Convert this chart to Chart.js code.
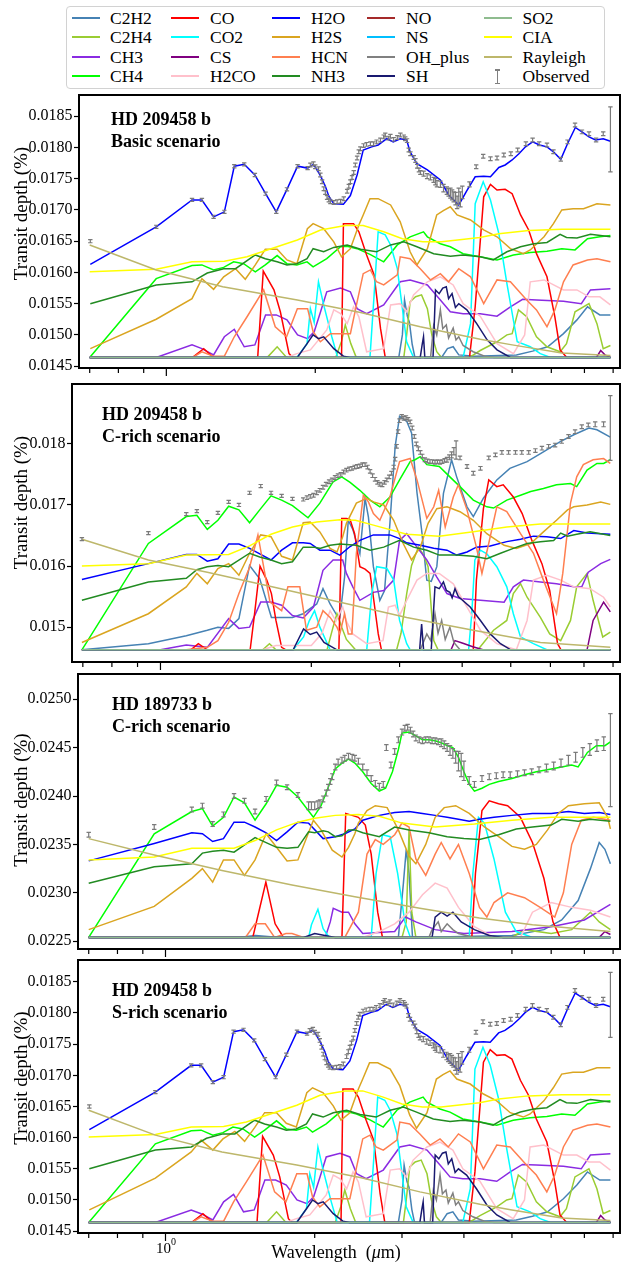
<!DOCTYPE html>
<html>
<head>
<meta charset="utf-8">
<script src="https://cdn.jsdelivr.net/npm/chart.js@4.4.1/dist/chart.umd.min.js"></script>
<style>
  html, body { margin: 0; padding: 0; background: #fff; }
  body { width: 632px; height: 1263px; position: relative; overflow: hidden; font-family: "Liberation Serif", "Times New Roman", serif; }
  canvas { position: absolute; left: 0; }
  #legend { position: absolute; left: 66px; top: 6px; width: 537px; height: 81px; border: 1px solid #d2d2d2; border-radius: 4px; background: #fff; }
  .li { position: absolute; height: 20px; line-height: 20px; font-size: 17.5px; color: #000; white-space: nowrap; }
  .lh { position: absolute; height: 2px; width: 28px; }
</style>
</head>
<body>
<div id="legend"></div>
<script>
// ---------- species and colours ----------
const SPECIES = ['C2H2','C2H4','CH3','CH4','CO','CO2','CS','H2CO','H2O','H2S','HCN','NH3','NO','NS','OH_plus','SH','SO2','CIA','Rayleigh'];
const COLORS = {
  C2H2:'#4682B4', C2H4:'#9ACD32', CH3:'#8A2BE2', CH4:'#00FF00', CO:'#FF0000', CO2:'#00FFFF',
  CS:'#800080', H2CO:'#FFC0CB', H2O:'#0000FF', H2S:'#DAA520', HCN:'#FF7F50', NH3:'#228B22',
  NO:'#A52A2A', NS:'#00BFFF', OH_plus:'#808080', SH:'#191970', SO2:'#8FBC8F', CIA:'#FFFF00',
  Rayleigh:'#BDB76B', Observed:'#808080'
};

// ---------- axis ticks ----------
const WL_MIN = 0.666, WL_MAX = 8.26;
const X_TICKS = [0.7, 0.8, 0.9, 1, 2, 3, 4, 5, 6, 7, 8];
const Y_TICKS_209 = [0.0145, 0.0150, 0.0155, 0.0160, 0.0165, 0.0170, 0.0175, 0.0180, 0.0185];
const Y_TICKS_209C = [0.015, 0.016, 0.017, 0.018];
const Y_TICKS_189 = [0.0225, 0.0230, 0.0235, 0.0240, 0.0245, 0.0250];

// ---------- HD 209458 b, basic scenario ----------
const basic_C2H2 = [[0.70,0.01464],[2.95,0.01464],[3.0,0.01500],[3.03,0.01556],[3.07,0.01530],[3.1,0.01520],[3.14,0.01485],[3.18,0.01464],[3.6,0.01464],[3.7,0.01478],[3.8,0.01481],[3.9,0.01468],[4.2,0.01466],[5.1,0.01468],[5.5,0.01474],[5.9,0.01481],[6.35,0.01502],[6.76,0.01524],[7.1,0.01545],[7.52,0.01532],[7.9,0.01532]];
const basic_C2H4 = [[0.70,0.01464],[1.6,0.01464],[1.675,0.01481],[1.75,0.01464],[2.2,0.01464],[2.26,0.01490],[2.3,0.01516],[2.36,0.01486],[2.42,0.01464],[3.02,0.01464],[3.06,0.01500],[3.11,0.01553],[3.19,0.01561],[3.28,0.01564],[3.37,0.01542],[3.44,0.01500],[3.52,0.01473],[3.6,0.01464],[4.1,0.01464],[4.31,0.01475],[4.66,0.01489],[4.88,0.01500],[5.0,0.01502],[5.15,0.01540],[5.35,0.01529],[5.6,0.01497],[5.88,0.01481],[6.25,0.01473],[6.44,0.01486],[6.7,0.01537],[7.15,0.01550],[7.42,0.01518],[7.64,0.01478],[7.9,0.01483]];
const basic_CH3 = [[0.70,0.01464],[0.954,0.01464],[1.127,0.01484],[1.18,0.01478],[1.246,0.01468],[1.31,0.01497],[1.372,0.01509],[1.437,0.01481],[1.51,0.01484],[1.587,0.01532],[1.668,0.01532],[1.753,0.01524],[1.842,0.01500],[1.93,0.01494],[1.99,0.01505],[2.05,0.01537],[2.11,0.01569],[2.25,0.01575],[2.355,0.01569],[2.43,0.01542],[2.54,0.01534],[2.75,0.01548],[2.97,0.01585],[3.11,0.01588],[3.37,0.01580],[3.58,0.01556],[3.75,0.01537],[3.98,0.01534],[4.31,0.01534],[4.66,0.01530],[4.96,0.01545],[5.25,0.01557],[5.6,0.01556],[6.35,0.01554],[6.9,0.01550],[7.2,0.01572],[7.9,0.01574]];
const basic_CH4 = [[0.702,0.01465],[0.954,0.01590],[1.127,0.01611],[1.18,0.01612],[1.246,0.01604],[1.306,0.01608],[1.368,0.01617],[1.433,0.01614],[1.513,0.01601],[1.585,0.01612],[1.675,0.01627],[1.753,0.01614],[1.836,0.01612],[1.925,0.01617],[1.98,0.01609],[2.11,0.01622],[2.25,0.01641],[2.32,0.01642],[2.43,0.01638],[2.58,0.01629],[2.75,0.01617],[2.93,0.01644],[3.11,0.01657],[3.31,0.01665],[3.37,0.01657],[3.58,0.01646],[3.75,0.01641],[3.98,0.01630],[4.31,0.01625],[4.66,0.01620],[5.03,0.01628],[5.44,0.01632],[5.88,0.01634],[6.3,0.01638],[6.7,0.01636],[7.1,0.01654],[7.52,0.01657],[7.9,0.01659]];
const basic_CO = [[0.70,0.01464],[1.13,0.01464],[1.19,0.01478],[1.245,0.01464],[1.53,0.01464],[1.57,0.01602],[1.65,0.01572],[1.70,0.01537],[1.77,0.01470],[1.8,0.01464],[2.26,0.01464],[2.28,0.01678],[2.39,0.01678],[2.45,0.01665],[2.54,0.01628],[2.63,0.01596],[2.71,0.01510],[2.77,0.01464],[4.1,0.01464],[4.21,0.01545],[4.38,0.01721],[4.52,0.01741],[4.66,0.01732],[4.84,0.01733],[5.0,0.01726],[5.2,0.01692],[5.4,0.01668],[5.6,0.01630],[5.88,0.01593],[6.1,0.01529],[6.25,0.01476],[6.45,0.01464],[7.9,0.01464]];
const basic_CO2 = [[0.70,0.01464],[1.836,0.01464],[1.925,0.01486],[1.955,0.01542],[1.99,0.01520],[2.03,0.01585],[2.08,0.01548],[2.16,0.01497],[2.22,0.01464],[2.58,0.01464],[2.63,0.01564],[2.68,0.01665],[2.77,0.01660],[2.84,0.01644],[2.93,0.01606],[3.06,0.01489],[3.16,0.01464],[3.98,0.01464],[4.12,0.01518],[4.21,0.01710],[4.37,0.01745],[4.52,0.01716],[4.7,0.01662],[4.88,0.01582],[5.12,0.01489],[5.44,0.01481],[5.7,0.01470],[5.98,0.01464],[7.9,0.01464]];
const basic_CS = [[0.70,0.01464],[7.4,0.01464],[7.55,0.01475],[7.7,0.01468],[7.9,0.01464]];
const basic_H2CO = [[0.70,0.01464],[1.75,0.01464],[1.836,0.01470],[1.955,0.01476],[2.11,0.01508],[2.18,0.01540],[2.25,0.01534],[2.32,0.01518],[2.39,0.01545],[2.45,0.01529],[2.54,0.01473],[2.75,0.01478],[2.84,0.01548],[2.97,0.01550],[3.06,0.01537],[3.16,0.01564],[3.37,0.01585],[3.58,0.01593],[3.8,0.01580],[3.98,0.01550],[4.31,0.01530],[4.66,0.01486],[5.03,0.01470],[5.3,0.01500],[5.44,0.01585],[5.8,0.01588],[6.35,0.01572],[6.76,0.01572],[7.15,0.01561],[7.52,0.01561],[7.9,0.01548]];
const basic_H2O = [[0.702,0.01613],[0.954,0.01673],[1.127,0.01716],[1.18,0.01716],[1.246,0.01689],[1.31,0.01697],[1.372,0.01770],[1.437,0.01773],[1.51,0.01756],[1.587,0.01726],[1.668,0.01697],[1.753,0.01733],[1.842,0.01770],[1.93,0.01767],[1.974,0.01772],[2.0,0.01769],[2.048,0.01755],[2.096,0.01738],[2.13,0.01722],[2.18,0.01710],[2.28,0.01709],[2.355,0.01723],[2.43,0.01756],[2.5,0.01796],[2.6,0.01801],[2.68,0.01804],[2.79,0.01814],[2.875,0.01809],[2.97,0.01814],[3.06,0.01812],[3.11,0.01793],[3.21,0.01774],[3.37,0.01764],[3.58,0.01748],[3.72,0.01724],[3.9,0.01708],[4.05,0.01731],[4.21,0.01753],[4.38,0.01754],[4.52,0.01753],[4.7,0.01768],[4.84,0.01772],[5.0,0.01780],[5.16,0.01790],[5.32,0.01801],[5.5,0.01809],[5.68,0.01804],[5.88,0.01801],[6.06,0.01793],[6.27,0.01781],[6.47,0.01806],[6.71,0.01832],[6.92,0.01825],[7.15,0.01817],[7.37,0.01812],[7.64,0.01814],[7.9,0.01810]];
const basic_H2S = [[0.702,0.01478],[0.954,0.01525],[1.127,0.01558],[1.18,0.01590],[1.246,0.01573],[1.306,0.01593],[1.38,0.01606],[1.444,0.01589],[1.513,0.01612],[1.585,0.01637],[1.675,0.01637],[1.753,0.01620],[1.836,0.01614],[1.928,0.01670],[1.98,0.01678],[2.08,0.01670],[2.18,0.01649],[2.26,0.01625],[2.355,0.01638],[2.45,0.01676],[2.5,0.01692],[2.58,0.01718],[2.68,0.01718],[2.84,0.01708],[2.97,0.01681],[3.11,0.01633],[3.21,0.01612],[3.37,0.01638],[3.52,0.01692],[3.63,0.01699],[3.75,0.01705],[3.87,0.01692],[4.12,0.01684],[4.38,0.01668],[4.66,0.01657],[4.96,0.01638],[5.27,0.01630],[5.44,0.01636],[5.8,0.01657],[6.06,0.01678],[6.3,0.01700],[6.64,0.01702],[6.97,0.01702],[7.42,0.01710],[7.9,0.01708]];
const basic_HCN = [[0.70,0.01464],[1.13,0.01464],[1.18,0.01473],[1.246,0.01466],[1.31,0.01466],[1.372,0.01497],[1.456,0.01529],[1.573,0.01572],[1.66,0.01513],[1.75,0.01497],[1.84,0.01542],[1.93,0.01542],[1.98,0.01505],[2.048,0.01489],[2.146,0.01502],[2.355,0.01502],[2.43,0.01553],[2.5,0.01598],[2.585,0.01604],[2.66,0.01585],[2.75,0.01580],[2.93,0.01596],[2.97,0.01625],[3.11,0.01622],[3.26,0.01606],[3.42,0.01588],[3.58,0.01598],[3.72,0.01585],[3.9,0.01606],[4.12,0.01593],[4.38,0.01550],[4.66,0.01588],[4.96,0.01585],[5.35,0.01556],[5.6,0.01540],[5.88,0.01513],[6.1,0.01540],[6.35,0.01585],[6.64,0.01612],[7.1,0.01620],[7.42,0.01622],[7.9,0.01617]];
const basic_NH3 = [[0.702,0.01550],[0.954,0.01580],[1.127,0.01585],[1.21,0.01599],[1.306,0.01606],[1.38,0.01606],[1.513,0.01628],[1.585,0.01622],[1.675,0.01617],[1.753,0.01612],[1.836,0.01614],[1.925,0.01622],[1.98,0.01638],[2.08,0.01633],[2.18,0.01640],[2.32,0.01644],[2.47,0.01637],[2.66,0.01633],[2.84,0.01644],[3.02,0.01649],[3.21,0.01641],[3.47,0.01630],[3.75,0.01626],[3.98,0.01628],[4.31,0.01625],[4.58,0.01620],[4.88,0.01633],[5.2,0.01641],[5.53,0.01646],[5.88,0.01648],[6.25,0.01661],[6.44,0.01656],[6.76,0.01655],[7.2,0.01661],[7.9,0.01657]];
const basic_NO = [[0.70,0.01464],[7.9,0.01464]];
const basic_NS = [[0.70,0.01464],[7.9,0.01464]];
const basic_OH_plus = [[0.70,0.01464],[3.42,0.01464],[3.47,0.01515],[3.52,0.01500],[3.58,0.01540],[3.62,0.01510],[3.68,0.01516],[3.72,0.01495],[3.8,0.01511],[3.85,0.01492],[3.9,0.01497],[3.98,0.01483],[4.17,0.01473],[4.4,0.01466],[4.6,0.01464],[7.9,0.01464]];
const basic_SH = [[0.70,0.01464],[1.84,0.01464],[1.925,0.01486],[1.98,0.01500],[2.03,0.01494],[2.08,0.01497],[2.18,0.01478],[2.28,0.01466],[2.35,0.01464],[3.26,0.01464],[3.29,0.01485],[3.31,0.01497],[3.33,0.01464],[3.46,0.01464],[3.5,0.01572],[3.56,0.01566],[3.62,0.01575],[3.68,0.01577],[3.72,0.01558],[3.78,0.01566],[3.84,0.01544],[3.9,0.01550],[4.05,0.01540],[4.24,0.01518],[4.45,0.01492],[4.66,0.01476],[4.96,0.01464],[7.9,0.01464]];
const basic_SO2 = [[0.70,0.01464],[7.9,0.01464]];
const basic_CIA = [[0.70,0.01601],[0.954,0.01605],[1.127,0.01617],[1.31,0.01618],[1.456,0.01625],[1.6,0.01636],[1.84,0.01652],[2.05,0.01668],[2.3,0.01675],[2.5,0.01675],[2.75,0.01665],[3.0,0.01654],[3.3,0.01649],[3.6,0.01649],[4.0,0.01653],[4.3,0.01656],[4.7,0.01662],[5.4,0.01667],[6.3,0.01669],[7.9,0.01669]];
const basic_Rayleigh = [[0.70,0.01644],[0.954,0.01604],[1.3,0.01577],[1.84,0.01556],[2.47,0.01536],[3.26,0.01513],[4.31,0.01493],[5.0,0.01484],[6.3,0.01471],[7.9,0.01467]];
const basic_obs = [
  [0.702,0.01650,0.000025],[0.954,0.01673,0.000025],[1.127,0.01716,0.000025],[1.18,0.01716,0.000025],[1.246,0.01689,0.000025],[1.31,0.01697,0.000025],[1.372,0.01770,0.000025],[1.437,0.01773,0.000025],[1.51,0.01756,0.000025],[1.587,0.01726,0.000025],[1.668,0.01697,0.000025],[1.753,0.01733,0.000025],[1.842,0.01770,0.000025],[1.93,0.01767,0.000025],
  [1.955,0.01772,0.00003],[1.983,0.01774,0.00003],[2.0,0.01769,0.00003],[2.031,0.01766,0.00003],[2.048,0.01756,0.00003],[2.065,0.01745,0.00003],[2.081,0.01734,0.00003],[2.096,0.01728,0.00003],[2.113,0.01720,0.00003],[2.13,0.01716,0.00003],[2.146,0.01713,0.00003],[2.18,0.01712,0.00003],[2.214,0.01713,0.00003],[2.25,0.01714,0.00003],[2.284,0.01718,0.00003],[2.32,0.01730,0.00003],[2.338,0.01738,0.00003],[2.355,0.01745,0.00003],[2.373,0.01752,0.00003],[2.392,0.01760,0.00003],[2.41,0.01772,0.00003],[2.43,0.01783,0.00003],[2.449,0.01793,0.00003],[2.467,0.01798,0.00003],[2.504,0.01803,0.00003],[2.54,0.01805,0.00003],[2.585,0.01806,0.00003],[2.623,0.01806,0.00003],[2.661,0.01809,0.00003],[2.708,0.01812,0.00003],[2.75,0.01817,0.00003],[2.77,0.01820,0.00003],[2.81,0.01815,0.00003],[2.837,0.01818,0.00003],[2.881,0.01813,0.00003],[2.93,0.01816,0.00003],[2.972,0.01820,0.00003],[3.02,0.01817,0.00003],[3.04,0.01814,0.00003],[3.066,0.01811,0.00003],[3.09,0.01796,0.00003],[3.114,0.01790,0.00003],[3.163,0.01784,0.00003],[3.188,0.01779,0.00003],[3.214,0.01770,0.00003],[3.24,0.01764,0.00003],[3.262,0.01760,0.00003],[3.312,0.01758,0.00004],[3.366,0.01754,0.00004],[3.418,0.01752,0.00004],[3.47,0.01748,0.00004],[3.498,0.01745,0.00005],[3.524,0.01742,0.00005],[3.581,0.01741,0.00005],[3.633,0.01735,0.00006],[3.69,0.01731,0.00006],[3.72,0.01728,0.00006],[3.751,0.01727,0.00008],[3.782,0.01724,0.00008],[3.81,0.01721,0.00008],[3.843,0.01718,0.00010],[3.87,0.01712,0.00010],[3.9,0.01722,0.00013],[3.93,0.01717,0.00012],[3.965,0.01728,0.00010],
  [4.1,0.01741,0.00004],[4.23,0.01769,0.00003],[4.37,0.01786,0.00003],[4.52,0.01782,0.00003],[4.66,0.01783,0.00003],[4.81,0.01788,0.00003],[4.97,0.01790,0.00003],[5.13,0.01796,0.00003],[5.33,0.01806,0.00003],[5.5,0.01812,0.00003],[5.67,0.01806,0.00003],[5.88,0.01804,0.00003],[6.06,0.01793,0.00003],[6.27,0.01781,0.00003],[6.47,0.01809,0.00003],[6.7,0.01836,0.00003],[6.92,0.01825,0.00003],[7.15,0.01822,0.00003],[7.39,0.01812,0.00003],[7.64,0.01822,0.00003],[7.9,0.01813,0.00052]
];

// ---------- HD 209458 b, C-rich scenario ----------
const crich_C2H2 = [[0.697,0.01463],[0.946,0.01473],[1.126,0.01486],[1.24,0.01495],[1.302,0.01500],[1.368,0.01498],[1.434,0.01514],[1.506,0.01601],[1.578,0.01579],[1.665,0.01516],[1.745,0.01516],[1.834,0.01516],[1.926,0.01522],[2.05,0.01538],[2.11,0.01563],[2.18,0.01538],[2.25,0.01519],[2.28,0.01516],[2.33,0.01582],[2.37,0.01675],[2.42,0.01660],[2.5,0.01620],[2.56,0.01711],[2.6,0.01680],[2.66,0.01599],[2.74,0.01544],[2.8,0.01560],[2.87,0.01670],[2.94,0.01796],[3.0,0.01845],[3.1,0.01837],[3.17,0.01818],[3.25,0.01720],[3.32,0.01659],[3.4,0.01577],[3.47,0.01575],[3.56,0.01599],[3.67,0.01719],[3.81,0.01774],[3.9,0.01746],[4.09,0.01697],[4.21,0.01681],[4.41,0.01711],[4.69,0.01741],[4.98,0.01760],[5.39,0.01771],[5.81,0.01787],[6.29,0.01804],[6.68,0.01815],[7.16,0.01826],[7.43,0.01823],[7.9,0.01811]];
const crich_C2H4 = [[0.697,0.01463],[1.6,0.01463],[1.65,0.01473],[1.7,0.01463],[2.15,0.01463],[2.21,0.01500],[2.25,0.01522],[2.3,0.01500],[2.35,0.01480],[2.45,0.01463],[2.96,0.01463],[3.02,0.01490],[3.1,0.01555],[3.17,0.01601],[3.27,0.01631],[3.34,0.01620],[3.42,0.01599],[3.51,0.01478],[3.58,0.01463],[4.3,0.01463],[4.62,0.01495],[4.91,0.01511],[5.06,0.01555],[5.23,0.01571],[5.39,0.01549],[5.73,0.01516],[5.98,0.01489],[6.29,0.01478],[6.58,0.01511],[6.77,0.01566],[7.1,0.01588],[7.3,0.01544],[7.63,0.01484],[7.9,0.01492]];
const crich_CH3 = [[0.697,0.01463],[1.0,0.01463],[1.126,0.01471],[1.24,0.01467],[1.368,0.01514],[1.434,0.01498],[1.506,0.01500],[1.585,0.01541],[1.662,0.01541],[1.745,0.01536],[1.834,0.01519],[1.927,0.01515],[2.02,0.01533],[2.11,0.01593],[2.21,0.01610],[2.31,0.01610],[2.35,0.01588],[2.42,0.01566],[2.5,0.01544],[2.66,0.01557],[2.79,0.01560],[2.92,0.01577],[3.0,0.01642],[3.1,0.01653],[3.25,0.01631],[3.4,0.01610],[3.56,0.01582],[3.73,0.01555],[3.96,0.01547],[4.35,0.01544],[4.85,0.01541],[5.06,0.01566],[5.3,0.01577],[5.73,0.01574],[6.17,0.01571],[6.68,0.01566],[6.93,0.01566],[7.14,0.01590],[7.56,0.01604],[7.9,0.01611]];
const crich_CH4 = [[0.697,0.01463],[0.946,0.01637],[1.126,0.01681],[1.182,0.01683],[1.24,0.01660],[1.302,0.01675],[1.368,0.01698],[1.434,0.01692],[1.506,0.01671],[1.585,0.01694],[1.662,0.01715],[1.745,0.01708],[1.834,0.01699],[1.97,0.01679],[2.08,0.01703],[2.21,0.01738],[2.3,0.01746],[2.39,0.01737],[2.5,0.01724],[2.62,0.01708],[2.74,0.01697],[2.87,0.01713],[3.0,0.01741],[3.15,0.01771],[3.22,0.01774],[3.3,0.01779],[3.4,0.01766],[3.6,0.01763],[3.78,0.01746],[3.96,0.01730],[4.21,0.01708],[4.48,0.01697],[4.62,0.01695],[4.91,0.01708],[5.23,0.01716],[5.48,0.01722],[5.81,0.01727],[6.17,0.01733],[6.58,0.01735],[6.77,0.01730],[7.1,0.01757],[7.43,0.01768],[7.66,0.01768],[7.9,0.01774]];
const crich_CO = [[0.697,0.01463],[1.15,0.01463],[1.19,0.01473],[1.24,0.01463],[1.51,0.01463],[1.54,0.01520],[1.58,0.01600],[1.63,0.01577],[1.665,0.01555],[1.7,0.01511],[1.745,0.01467],[1.78,0.01463],[2.27,0.01463],[2.3,0.01678],[2.35,0.01678],[2.39,0.01676],[2.44,0.01653],[2.5,0.01599],[2.56,0.01595],[2.62,0.01588],[2.66,0.01549],[2.72,0.01489],[2.76,0.01463],[4.21,0.01463],[4.27,0.01577],[4.41,0.01694],[4.52,0.01741],[4.69,0.01730],[4.83,0.01733],[5.06,0.01713],[5.27,0.01686],[5.51,0.01642],[5.77,0.01604],[5.98,0.01560],[6.2,0.01473],[6.3,0.01463],[7.9,0.01463]];
const crich_CO2 = [[0.697,0.01463],[1.84,0.01463],[1.93,0.01484],[1.98,0.01510],[2.03,0.01527],[2.08,0.01500],[2.18,0.01463],[2.58,0.01463],[2.64,0.01555],[2.7,0.01599],[2.83,0.01596],[2.92,0.01577],[3.0,0.01511],[3.1,0.01473],[3.15,0.01463],[4.12,0.01463],[4.18,0.01522],[4.24,0.01610],[4.35,0.01626],[4.48,0.01620],[4.69,0.01599],[4.91,0.01566],[5.06,0.01522],[5.23,0.01484],[5.55,0.01473],[5.9,0.01463],[7.9,0.01463]];
const crich_CS = [[0.697,0.01463],[3.8,0.01463],[3.87,0.01478],[4.0,0.01474],[4.2,0.01468],[4.4,0.01463],[7.1,0.01463],[7.3,0.01511],[7.66,0.01541],[7.9,0.01525]];
const crich_H2CO = [[0.697,0.01463],[1.6,0.01463],[1.7,0.01470],[2.0,0.01470],[2.1,0.01490],[2.18,0.01527],[2.24,0.01510],[2.31,0.01533],[2.35,0.01510],[2.42,0.01489],[2.58,0.01473],[2.78,0.01478],[2.85,0.01533],[2.94,0.01536],[3.0,0.01519],[3.1,0.01544],[3.25,0.01577],[3.4,0.01588],[3.6,0.01588],[3.84,0.01571],[4.09,0.01533],[4.35,0.01495],[4.69,0.01473],[5.13,0.01463],[5.39,0.01511],[5.55,0.01577],[5.9,0.01585],[6.29,0.01577],[6.68,0.01566],[7.2,0.01563],[7.66,0.01549],[7.9,0.01533]];
const crich_H2O = [[0.697,0.01578],[0.946,0.01604],[1.126,0.01619],[1.182,0.01619],[1.24,0.01608],[1.302,0.01612],[1.368,0.01636],[1.434,0.01636],[1.506,0.01629],[1.585,0.01619],[1.662,0.01610],[1.745,0.01626],[1.834,0.01638],[1.927,0.01638],[1.99,0.01637],[2.08,0.01626],[2.18,0.01626],[2.28,0.01618],[2.39,0.01632],[2.5,0.01642],[2.66,0.01651],[2.87,0.01651],[3.0,0.01645],[3.1,0.01638],[3.3,0.01634],[3.51,0.01629],[3.73,0.01626],[3.9,0.01618],[4.09,0.01623],[4.27,0.01631],[4.55,0.01633],[4.91,0.01640],[5.23,0.01644],[5.55,0.01649],[5.9,0.01648],[6.29,0.01645],[6.49,0.01652],[6.68,0.01658],[7.1,0.01654],[7.56,0.01653],[7.9,0.01652]];
const crich_H2S = [[0.697,0.01475],[0.946,0.01522],[1.126,0.01566],[1.182,0.01588],[1.24,0.01571],[1.302,0.01596],[1.368,0.01604],[1.434,0.01585],[1.506,0.01621],[1.585,0.01651],[1.662,0.01648],[1.745,0.01616],[1.834,0.01610],[1.927,0.01671],[1.99,0.01672],[2.08,0.01656],[2.18,0.01629],[2.25,0.01623],[2.31,0.01648],[2.35,0.01670],[2.46,0.01703],[2.58,0.01711],[2.66,0.01705],[2.79,0.01700],[2.92,0.01675],[3.05,0.01637],[3.17,0.01610],[3.3,0.01631],[3.42,0.01670],[3.56,0.01694],[3.73,0.01697],[3.96,0.01689],[4.21,0.01675],[4.48,0.01653],[4.85,0.01634],[5.13,0.01629],[5.48,0.01637],[5.81,0.01656],[6.17,0.01675],[6.49,0.01692],[6.68,0.01697],[7.1,0.01700],[7.56,0.01705],[7.9,0.01701]];
const crich_HCN = [[0.697,0.01463],[1.126,0.01463],[1.24,0.01467],[1.302,0.01478],[1.368,0.01508],[1.434,0.01555],[1.506,0.01598],[1.565,0.01651],[1.6,0.01607],[1.654,0.01541],[1.745,0.01527],[1.796,0.01566],[1.897,0.01566],[1.956,0.01495],[2.05,0.01500],[2.11,0.01527],[2.18,0.01516],[2.25,0.01500],[2.28,0.01489],[2.33,0.01522],[2.37,0.01489],[2.41,0.01489],[2.46,0.01621],[2.54,0.01716],[2.6,0.01705],[2.66,0.01686],[2.74,0.01675],[2.87,0.01713],[3.0,0.01771],[3.15,0.01776],[3.25,0.01741],[3.4,0.01678],[3.51,0.01697],[3.59,0.01724],[3.7,0.01664],[3.84,0.01713],[3.93,0.01733],[4.09,0.01692],[4.27,0.01631],[4.38,0.01588],[4.55,0.01648],[4.69,0.01697],[4.91,0.01689],[5.23,0.01653],[5.55,0.01621],[5.81,0.01577],[6.17,0.01522],[6.35,0.01588],[6.58,0.01703],[6.77,0.01746],[6.98,0.01766],[7.3,0.01774],[7.66,0.01776],[7.9,0.01768]];
const crich_NH3 = [[0.697,0.01544],[0.946,0.01574],[1.126,0.01580],[1.182,0.01594],[1.24,0.01599],[1.302,0.01601],[1.368,0.01599],[1.506,0.01621],[1.578,0.01615],[1.662,0.01610],[1.745,0.01604],[1.834,0.01607],[1.927,0.01631],[2.02,0.01631],[2.08,0.01629],[2.18,0.01634],[2.28,0.01636],[2.46,0.01634],[2.62,0.01626],[2.79,0.01631],[3.0,0.01642],[3.2,0.01631],[3.4,0.01626],[3.6,0.01618],[3.9,0.01618],[4.21,0.01616],[4.48,0.01612],[4.77,0.01621],[5.06,0.01629],[5.39,0.01637],[5.73,0.01640],[6.09,0.01642],[6.29,0.01654],[6.49,0.01649],[6.77,0.01652],[7.2,0.01656],[7.9,0.01650]];
const crich_NO = [[0.697,0.01463],[7.9,0.01463]];
const crich_NS = [[0.697,0.01463],[7.9,0.01463]];
const crich_OH_plus = [[0.697,0.01463],[3.3,0.01463],[3.4,0.01489],[3.46,0.01478],[3.53,0.01522],[3.58,0.01490],[3.64,0.01511],[3.7,0.01480],[3.78,0.01500],[3.85,0.01475],[3.96,0.01463],[7.9,0.01463]];
const crich_SH = [[0.697,0.01463],[1.84,0.01463],[1.93,0.01497],[1.99,0.01488],[2.05,0.01492],[2.12,0.01475],[2.25,0.01463],[3.29,0.01463],[3.32,0.01505],[3.35,0.01463],[3.47,0.01463],[3.53,0.01566],[3.6,0.01563],[3.67,0.01574],[3.72,0.01560],[3.78,0.01557],[3.82,0.01548],[3.87,0.01563],[3.93,0.01550],[4.15,0.01533],[4.35,0.01511],[4.55,0.01489],[4.77,0.01473],[5.0,0.01463],[7.9,0.01463]];
const crich_SO2 = [[0.697,0.01463],[7.9,0.01463]];
const crich_CIA = [[0.697,0.01600],[0.946,0.01604],[1.126,0.01618],[1.368,0.01619],[1.506,0.01633],[1.662,0.01652],[1.834,0.01664],[2.05,0.01672],[2.28,0.01676],[2.45,0.01675],[2.66,0.01667],[3.1,0.01652],[3.6,0.01649],[4.21,0.01656],[4.91,0.01664],[5.73,0.01669],[6.68,0.01669],[7.9,0.01669]];
const crich_Rayleigh = [[0.697,0.01644],[0.946,0.01610],[1.24,0.01590],[1.67,0.01566],[2.39,0.01537],[3.1,0.01516],[4.21,0.01495],[5.73,0.01475],[7.9,0.01467]];
const crich_obs = [
  [0.697,0.01644,0.000025],[0.946,0.01654,0.000025],[1.126,0.01685,0.000025],[1.182,0.01690,0.000025],[1.24,0.01672,0.000025],[1.302,0.01687,0.000025],[1.368,0.01705,0.000025],[1.434,0.01700,0.000025],[1.506,0.01720,0.000025],[1.585,0.01731,0.000025],[1.662,0.01720,0.000025],[1.745,0.01715,0.000025],[1.834,0.01710,0.000025],[1.927,0.01709,0.000025],
  [1.96,0.01712,0.00003],[1.99,0.01714,0.00003],[2.02,0.01716,0.00003],[2.05,0.01720,0.00003],[2.08,0.01724,0.00003],[2.11,0.01729,0.00003],[2.14,0.01734,0.00003],[2.17,0.01738,0.00003],[2.2,0.01741,0.00003],[2.23,0.01745,0.00003],[2.26,0.01748,0.00003],[2.29,0.01750,0.00003],[2.32,0.01754,0.00003],[2.35,0.01757,0.00003],[2.38,0.01759,0.00003],[2.41,0.01760,0.00003],[2.44,0.01762,0.00003],[2.47,0.01763,0.00003],[2.5,0.01764,0.00003],[2.53,0.01766,0.00003],[2.56,0.01766,0.00003],[2.59,0.01762,0.00003],[2.62,0.01755,0.00003],[2.65,0.01748,0.00003],[2.68,0.01742,0.00003],[2.71,0.01737,0.00003],[2.74,0.01734,0.00003],[2.77,0.01733,0.00003],[2.8,0.01737,0.00003],[2.83,0.01741,0.00003],[2.86,0.01746,0.00003],[2.89,0.01752,0.00003],[2.92,0.01762,0.00003],[2.94,0.01775,0.00003],[2.96,0.01796,0.00003],[2.98,0.01820,0.00003],[3.0,0.01838,0.00003],[3.03,0.01845,0.00003],[3.06,0.01842,0.00003],[3.09,0.01843,0.00003],[3.12,0.01840,0.00003],[3.15,0.01836,0.00003],[3.18,0.01826,0.00003],[3.21,0.01812,0.00003],[3.24,0.01800,0.00003],[3.27,0.01792,0.00003],[3.3,0.01786,0.00003],[3.33,0.01780,0.00003],[3.37,0.01774,0.00003],[3.41,0.01772,0.00003],[3.45,0.01771,0.00003],[3.49,0.01771,0.00003],[3.53,0.01770,0.00003],[3.57,0.01771,0.00003],[3.61,0.01770,0.00003],[3.65,0.01771,0.00003],[3.69,0.01773,0.00003],[3.73,0.01774,0.00004],[3.77,0.01778,0.00004],[3.81,0.01782,0.00005],[3.85,0.01788,0.00006],[3.89,0.01790,0.00015],
  [3.96,0.01777,0.00003],[4.09,0.01763,0.00003],[4.21,0.01752,0.00003],[4.35,0.01760,0.00003],[4.52,0.01777,0.00003],[4.66,0.01782,0.00003],[4.8,0.01786,0.00003],[4.95,0.01786,0.00003],[5.11,0.01786,0.00003],[5.26,0.01786,0.00003],[5.43,0.01786,0.00003],[5.6,0.01789,0.00003],[5.77,0.01793,0.00003],[5.95,0.01796,0.00003],[6.13,0.01798,0.00003],[6.32,0.01804,0.00003],[6.52,0.01812,0.00003],[6.72,0.01820,0.00003],[6.93,0.01828,0.00003],[7.14,0.01831,0.00003],[7.37,0.01832,0.00004],[7.66,0.01832,0.00004],[7.9,0.01826,0.00053]
];

// ---------- HD 189733 b, C-rich scenario ----------
const hd189_C2H2 = [[0.70,0.02254],[1.4,0.02254],[1.52,0.02256],[1.7,0.02254],[2.95,0.02254],[3.02,0.02310],[3.06,0.02345],[3.1,0.02320],[3.15,0.02254],[5.0,0.02256],[5.8,0.02262],[6.3,0.02272],[6.8,0.02292],[7.2,0.02325],[7.5,0.02352],[7.7,0.02345],[7.9,0.02330]];
const hd189_C2H4 = [[0.70,0.02254],[3.0,0.02254],[3.06,0.02270],[3.1,0.02365],[3.14,0.02280],[3.2,0.02254],[5.0,0.02254],[5.3,0.02262],[6.0,0.02258],[6.6,0.02262],[7.2,0.02280],[7.5,0.02270],[7.9,0.02262]];
const hd189_CH3 = [[0.70,0.02254],[2.1,0.02254],[2.15,0.02270],[2.18,0.02284],[2.27,0.02280],[2.34,0.02280],[2.41,0.02268],[2.5,0.02258],[2.9,0.02260],[3.05,0.02275],[3.2,0.02270],[3.5,0.02262],[4.0,0.02258],[5.0,0.02260],[6.0,0.02265],[7.0,0.02272],[7.9,0.02288]];
const hd189_CH4 = [[0.70,0.02254],[0.949,0.02361],[1.13,0.02384],[1.187,0.02387],[1.245,0.02369],[1.309,0.02378],[1.375,0.02399],[1.443,0.02393],[1.516,0.02375],[1.596,0.02392],[1.675,0.02411],[1.759,0.02409],[1.85,0.02399],[1.988,0.02378],[2.06,0.02390],[2.13,0.02409],[2.2,0.02428],[2.27,0.02434],[2.34,0.02438],[2.41,0.02434],[2.5,0.02425],[2.6,0.02413],[2.7,0.02405],[2.78,0.02408],[2.87,0.02425],[2.95,0.02448],[3.0,0.02465],[3.1,0.02466],[3.2,0.02462],[3.3,0.02458],[3.4,0.02458],[3.5,0.02457],[3.6,0.02455],[3.7,0.02452],[3.8,0.02450],[3.9,0.02440],[4.0,0.02425],[4.1,0.02412],[4.2,0.02405],[4.35,0.02408],[4.5,0.02412],[4.7,0.02415],[5.0,0.02418],[5.3,0.02422],[5.6,0.02425],[6.0,0.02428],[6.3,0.02430],[6.6,0.02432],[6.8,0.02430],[7.1,0.02445],[7.4,0.02452],[7.7,0.02452],[7.9,0.02456]];
const hd189_CO = [[0.70,0.02254],[1.5,0.02254],[1.594,0.02311],[1.664,0.02268],[1.73,0.02254],[2.27,0.02254],[2.31,0.02382],[2.38,0.02380],[2.45,0.02378],[2.53,0.02370],[2.6,0.02340],[2.68,0.02280],[2.74,0.02254],[4.15,0.02254],[4.22,0.02320],[4.35,0.02385],[4.5,0.02395],[4.7,0.02392],[4.9,0.02390],[5.2,0.02378],[5.5,0.02352],[5.8,0.02315],[6.05,0.02270],[6.25,0.02254],[7.9,0.02254]];
const hd189_CO2 = [[0.70,0.02254],[1.944,0.02254],[1.97,0.02267],[2.03,0.02283],[2.08,0.02263],[2.14,0.02254],[2.6,0.02254],[2.66,0.02320],[2.74,0.02360],[2.84,0.02358],[2.94,0.02320],[3.04,0.02270],[3.12,0.02254],[4.1,0.02254],[4.17,0.02320],[4.28,0.02378],[4.4,0.02372],[4.6,0.02335],[4.85,0.02280],[5.1,0.02260],[5.5,0.02254],[7.9,0.02254]];
const hd189_CS = [[0.70,0.02254],[7.5,0.02254],[7.7,0.02260],[7.9,0.02257]];
const hd189_H2CO = [[0.70,0.02254],[2.5,0.02254],[2.7,0.02260],[2.9,0.02268],[3.1,0.02280],[3.3,0.02298],[3.5,0.02310],[3.7,0.02305],[3.9,0.02285],[4.2,0.02265],[4.6,0.02254],[5.2,0.02254],[5.5,0.02280],[6.0,0.02290],[6.6,0.02285],[7.2,0.02282],[7.9,0.02275]];
const hd189_H2O = [[0.70,0.02333],[0.949,0.02351],[1.13,0.02362],[1.187,0.02361],[1.245,0.02353],[1.309,0.02356],[1.375,0.02373],[1.443,0.02373],[1.516,0.02368],[1.596,0.02362],[1.675,0.02354],[1.759,0.02363],[1.85,0.02373],[1.944,0.02372],[2.08,0.02356],[2.2,0.02358],[2.3,0.02361],[2.41,0.02366],[2.5,0.02375],[2.7,0.02380],[2.9,0.02383],[3.1,0.02384],[3.3,0.02382],[3.5,0.02380],[3.7,0.02378],[3.9,0.02376],[4.1,0.02374],[4.3,0.02376],[4.6,0.02378],[5.0,0.02380],[5.5,0.02382],[6.0,0.02382],[6.5,0.02384],[7.0,0.02382],[7.5,0.02383],[7.9,0.02381]];
const hd189_H2S = [[0.70,0.02262],[0.949,0.02286],[1.13,0.02315],[1.187,0.02325],[1.245,0.02311],[1.309,0.02334],[1.375,0.02334],[1.443,0.02318],[1.516,0.02334],[1.596,0.02361],[1.675,0.02347],[1.759,0.02333],[1.85,0.02334],[1.988,0.02375],[2.06,0.02365],[2.17,0.02344],[2.27,0.02337],[2.34,0.02347],[2.41,0.02361],[2.45,0.02372],[2.55,0.02385],[2.65,0.02390],[2.8,0.02388],[2.95,0.02365],[3.1,0.02338],[3.2,0.02330],[3.35,0.02350],[3.5,0.02378],[3.65,0.02388],[3.85,0.02390],[4.1,0.02382],[4.4,0.02368],[4.7,0.02358],[5.0,0.02348],[5.3,0.02345],[5.6,0.02350],[5.9,0.02365],[6.2,0.02382],[6.5,0.02390],[7.0,0.02392],[7.5,0.02393],[7.8,0.02378],[7.9,0.02366]];
const hd189_HCN = [[0.70,0.02254],[1.45,0.02254],[1.516,0.02268],[1.59,0.02268],[1.66,0.02254],[1.75,0.02258],[1.8,0.02258],[1.9,0.02254],[2.3,0.02254],[2.45,0.02280],[2.55,0.02340],[2.65,0.02355],[2.75,0.02350],[2.9,0.02360],[3.0,0.02372],[3.1,0.02368],[3.2,0.02335],[3.35,0.02318],[3.5,0.02340],[3.6,0.02352],[3.75,0.02335],[3.9,0.02350],[4.1,0.02320],[4.3,0.02285],[4.45,0.02275],[4.6,0.02290],[4.9,0.02300],[5.3,0.02295],[5.7,0.02285],[6.1,0.02275],[6.35,0.02300],[6.6,0.02350],[6.9,0.02375],[7.3,0.02378],[7.9,0.02375]];
const hd189_NH3 = [[0.70,0.02310],[0.949,0.02327],[1.13,0.02330],[1.187,0.02341],[1.245,0.02343],[1.309,0.02344],[1.375,0.02342],[1.516,0.02357],[1.675,0.02347],[1.759,0.02346],[1.85,0.02347],[1.944,0.02363],[2.0,0.02362],[2.08,0.02364],[2.13,0.02363],[2.2,0.02358],[2.27,0.02359],[2.34,0.02365],[2.41,0.02365],[2.5,0.02362],[2.7,0.02358],[2.9,0.02368],[3.1,0.02365],[3.4,0.02362],[3.7,0.02358],[4.0,0.02356],[4.3,0.02355],[4.7,0.02360],[5.1,0.02366],[5.5,0.02368],[6.0,0.02370],[6.3,0.02376],[6.8,0.02374],[7.2,0.02376],[7.9,0.02374]];
const hd189_NO = [[0.70,0.02254],[7.9,0.02254]];
const hd189_NS = [[0.70,0.02254],[7.9,0.02254]];
const hd189_OH_plus = [[0.70,0.02254],[3.4,0.02254],[3.45,0.02262],[3.55,0.02270],[3.6,0.02260],[3.7,0.02268],[3.8,0.02262],[3.9,0.02258],[4.2,0.02254],[7.9,0.02254]];
const hd189_SH = [[0.70,0.02254],[1.9,0.02254],[2.0,0.02258],[2.2,0.02254],[3.45,0.02254],[3.5,0.02275],[3.6,0.02280],[3.7,0.02276],[3.8,0.02280],[3.95,0.02270],[4.2,0.02262],[4.5,0.02256],[4.8,0.02254],[7.9,0.02254]];
const hd189_SO2 = [[0.70,0.02254],[7.9,0.02254]];
const hd189_CIA = [[0.70,0.02334],[0.949,0.02337],[1.13,0.02346],[1.375,0.02346],[1.516,0.02354],[1.675,0.02365],[1.85,0.02373],[2.0,0.02377],[2.2,0.02380],[2.45,0.02381],[2.7,0.02379],[3.0,0.02372],[3.5,0.02368],[4.2,0.02371],[5.0,0.02375],[6.0,0.02378],[7.9,0.02378]];
const hd189_Rayleigh = [[0.70,0.02356],[0.949,0.02339],[1.3,0.02323],[1.8,0.02308],[2.41,0.02296],[3.26,0.02284],[4.3,0.02274],[5.5,0.02267],[7.9,0.02260]];
const hd189_obs = [
  [0.70,0.02360,0.000025],[0.949,0.02368,0.000025],[1.13,0.02386,0.000025],[1.187,0.02390,0.000025],[1.245,0.02371,0.000025],[1.309,0.02381,0.000025],[1.375,0.02400,0.000025],[1.443,0.02395,0.000025],[1.516,0.02384,0.000025],[1.596,0.02397,0.000025],[1.675,0.02414,0.000025],[1.759,0.02409,0.000025],[1.85,0.02401,0.000025],[1.944,0.02390,0.00004],[1.97,0.02390,0.00004],[2.0,0.02390,0.00004],[2.03,0.02391,0.00004],[2.05,0.02392,0.00004],[2.08,0.02397,0.00003],[2.11,0.02403,0.00003],[2.13,0.02409,0.00003],[2.15,0.02415,0.00003],[2.17,0.02420,0.00003],[2.2,0.02430,0.00003],[2.23,0.02435,0.00003],[2.27,0.02437,0.00003],[2.3,0.02439,0.00003],[2.34,0.02441,0.00003],[2.38,0.02440,0.00003],[2.41,0.02439,0.00003],
  [2.45,0.02436,0.00003],[2.5,0.02430,0.00003],[2.55,0.02424,0.00003],[2.6,0.02418,0.00003],[2.65,0.02413,0.00003],[2.7,0.02410,0.00003],[2.75,0.02412,0.00003],[2.79,0.02450,0.00003],[2.85,0.02432,0.00003],[2.9,0.02446,0.00003],[2.95,0.02458,0.00003],[3.0,0.02466,0.00003],[3.04,0.02470,0.00003],[3.08,0.02471,0.00003],[3.12,0.02468,0.00003],[3.16,0.02464,0.00003],[3.2,0.02460,0.00003],[3.25,0.02458,0.00003],[3.3,0.02457,0.00003],[3.35,0.02458,0.00003],[3.4,0.02458,0.00003],[3.45,0.02457,0.00003],[3.5,0.02457,0.00003],[3.55,0.02456,0.00003],[3.6,0.02455,0.00004],[3.65,0.02453,0.00004],[3.7,0.02450,0.00004],[3.75,0.02447,0.00005],[3.8,0.02444,0.00005],[3.85,0.02440,0.00006],[3.9,0.02436,0.00010],[3.95,0.02432,0.00012],[4.0,0.02426,0.00010],[4.1,0.02416,0.00004],[4.2,0.02412,0.00003],
  [4.35,0.02418,0.00003],[4.5,0.02420,0.00003],[4.65,0.02421,0.00003],[4.8,0.02422,0.00003],[4.96,0.02422,0.00003],[5.13,0.02423,0.00003],[5.3,0.02424,0.00003],[5.48,0.02425,0.00003],[5.67,0.02427,0.00003],[5.87,0.02429,0.00004],[6.07,0.02431,0.00004],[6.28,0.02434,0.00004],[6.5,0.02437,0.00005],[6.72,0.02440,0.00005],[6.95,0.02445,0.00005],[7.18,0.02448,0.00006],[7.42,0.02452,0.00006],[7.66,0.02454,0.00007],[7.9,0.02437,0.00048]
];

// ---------- HD 209458 b, S-rich scenario ----------
const srich_H2S = [[0.702,0.01484],[0.954,0.01535],[1.127,0.01577],[1.18,0.01596],[1.246,0.01580],[1.306,0.01598],[1.38,0.01610],[1.444,0.01594],[1.513,0.01616],[1.585,0.01640],[1.675,0.01640],[1.753,0.01623],[1.836,0.01617],[1.928,0.01672],[1.98,0.01680],[2.08,0.01672],[2.18,0.01651],[2.26,0.01628],[2.355,0.01640],[2.45,0.01678],[2.5,0.01694],[2.58,0.01720],[2.68,0.01720],[2.84,0.01710],[2.97,0.01683],[3.11,0.01636],[3.21,0.01615],[3.37,0.01640],[3.52,0.01694],[3.63,0.01701],[3.75,0.01707],[3.87,0.01694],[4.12,0.01686],[4.38,0.01670],[4.66,0.01659],[4.96,0.01640],[5.27,0.01633],[5.44,0.01638],[5.8,0.01659],[6.06,0.01680],[6.3,0.01702],[6.64,0.01705],[6.97,0.01705],[7.42,0.01712],[7.9,0.01712]];

const PANELS = [
  { canvasTop: 88, canvasH: 290, frame: {l:79, t:95, r:620, b:368}, yMin: 0.01447, yMax: 0.01884, yTicks: Y_TICKS_209, dec: 4,
    title: ['HD 209458 b', 'Basic scenario'], titleX: 111, titleY: [125, 146.5], yTitleY: 213.5, showX: false,
    series: { C2H2: basic_C2H2, C2H4: basic_C2H4, CH3: basic_CH3, CH4: basic_CH4, CO: basic_CO, CO2: basic_CO2, CS: basic_CS, H2CO: basic_H2CO, H2O: basic_H2O, H2S: basic_H2S, HCN: basic_HCN, NH3: basic_NH3, NO: basic_NO, NS: basic_NS, OH_plus: basic_OH_plus, SH: basic_SH, SO2: basic_SO2, CIA: basic_CIA, Rayleigh: basic_Rayleigh },
    obs: basic_obs },
  { canvasTop: 378, canvasH: 294, frame: {l:72, t:384, r:620, b:662}, yMin: 0.01443, yMax: 0.01898, yTicks: Y_TICKS_209C, dec: 3,
    title: ['HD 209458 b', 'C-rich scenario'], titleX: 102, titleY: [419.5, 442], yTitleY: 502.5, showX: false,
    series: { C2H2: crich_C2H2, C2H4: crich_C2H4, CH3: crich_CH3, CH4: crich_CH4, CO: crich_CO, CO2: crich_CO2, CS: crich_CS, H2CO: crich_H2CO, H2O: crich_H2O, H2S: crich_H2S, HCN: crich_HCN, NH3: crich_NH3, NO: crich_NO, NS: crich_NS, OH_plus: crich_OH_plus, SH: crich_SH, SO2: crich_SO2, CIA: crich_CIA, Rayleigh: crich_Rayleigh },
    obs: crich_obs },
  { canvasTop: 672, canvasH: 287, frame: {l:78, t:674, r:620, b:949}, yMin: 0.02242, yMax: 0.02526, yTicks: Y_TICKS_189, dec: 4,
    title: ['HD 189733 b', 'C-rich scenario'], titleX: 112, titleY: [709.5, 732], yTitleY: 800, showX: false,
    series: { C2H2: hd189_C2H2, C2H4: hd189_C2H4, CH3: hd189_CH3, CH4: hd189_CH4, CO: hd189_CO, CO2: hd189_CO2, CS: hd189_CS, H2CO: hd189_H2CO, H2O: hd189_H2O, H2S: hd189_H2S, HCN: hd189_HCN, NH3: hd189_NH3, NO: hd189_NO, NS: hd189_NS, OH_plus: hd189_OH_plus, SH: hd189_SH, SO2: hd189_SO2, CIA: hd189_CIA, Rayleigh: hd189_Rayleigh },
    obs: hd189_obs },
  { canvasTop: 959, canvasH: 304, frame: {l:78, t:960, r:620, b:1233}, yMin: 0.01447, yMax: 0.01885, yTicks: Y_TICKS_209, dec: 4,
    title: ['HD 209458 b', 'S-rich scenario'], titleX: 112, titleY: [995.5, 1018], yTitleY: 1078, showX: true,
    series: { C2H2: basic_C2H2, C2H4: basic_C2H4, CH3: basic_CH3, CH4: basic_CH4, CO: basic_CO, CO2: basic_CO2, CS: basic_CS, H2CO: basic_H2CO, H2O: basic_H2O, H2S: srich_H2S, HCN: basic_HCN, NH3: basic_NH3, NO: basic_NO, NS: basic_NS, OH_plus: basic_OH_plus, SH: basic_SH, SO2: basic_SO2, CIA: basic_CIA, Rayleigh: basic_Rayleigh },
    obs: basic_obs }
];

// ---------- legend (5 columns, filled column by column) ----------
const LEGEND_ITEMS = SPECIES.concat(['Observed']);
(function buildLegend() {
  const box = document.getElementById('legend');
  const colLine = [5, 103.5, 205, 300, 416.5];
  const colText = [43, 143, 244, 339, 455.5];
  const rowMid = [10.5, 30, 49.5, 69];
  LEGEND_ITEMS.forEach((name, k) => {
    const c = Math.floor(k / 4), r = k % 4;
    if (name === 'Observed') {
      const bar = document.createElement('div');
      bar.style.cssText = `position:absolute;left:${colLine[c] + 13}px;top:${rowMid[r] - 7}px;width:1.5px;height:14px;background:${COLORS.Observed}`;
      box.appendChild(bar);
      [rowMid[r] - 7, rowMid[r] + 6.5].forEach(yy => {
        const cap = document.createElement('div');
        cap.style.cssText = `position:absolute;left:${colLine[c] + 11}px;top:${yy}px;width:5.5px;height:1.5px;background:${COLORS.Observed}`;
        box.appendChild(cap);
      });
    } else {
      const h = document.createElement('div');
      h.className = 'lh';
      h.style.left = colLine[c] + 'px';
      h.style.top = (rowMid[r] - 1) + 'px';
      h.style.background = COLORS[name];
      box.appendChild(h);
    }
    const t = document.createElement('div');
    t.className = 'li';
    t.style.left = colText[c] + 'px';
    t.style.top = (rowMid[r] - 10) + 'px';
    t.textContent = name;
    box.appendChild(t);
  });
})();

// ---------- panel decorations: frame, ticks, error bars, labels ----------
const panelDecor = {
  id: 'panelDecor',
  afterDatasetsDraw(chart, args, opts) {
    const { ctx, scales: { x, y } } = chart;
    const obsSet = chart.data.datasets.find(d => d.label === 'Observed');
    ctx.save();
    ctx.strokeStyle = '#7a7a7a';
    ctx.lineWidth = 1.2;
    obsSet.data.forEach(pt => {
      const px = x.getPixelForValue(pt.x);
      const yLo = y.getPixelForValue(pt.y - pt.e);
      const yHi = y.getPixelForValue(pt.y + pt.e);
      ctx.beginPath();
      ctx.moveTo(px, yLo); ctx.lineTo(px, yHi);
      ctx.moveTo(px - 2.2, yLo); ctx.lineTo(px + 2.2, yLo);
      ctx.moveTo(px - 2.2, yHi); ctx.lineTo(px + 2.2, yHi);
      ctx.stroke();
    });
    ctx.restore();
  },
  afterDraw(chart, args, opts) {
    const p = opts.panel;
    const { ctx, chartArea: a, scales: { x } } = chart;
    const off = p.canvasTop;
    ctx.save();
    // frame
    ctx.strokeStyle = '#000';
    ctx.lineWidth = 2;
    ctx.strokeRect(a.left, a.top, a.right - a.left, a.bottom - a.top);
    // x ticks (outward, bottom)
    ctx.lineWidth = 1.2;
    X_TICKS.forEach(v => {
      const px = x.getPixelForValue(v);
      const len = v === 1 ? 7 : 4;
      ctx.beginPath();
      ctx.moveTo(px, a.bottom + 1);
      ctx.lineTo(px, a.bottom + 1 + len);
      ctx.stroke();
    });
    // panel title
    ctx.fillStyle = '#000';
    ctx.textAlign = 'left';
    ctx.textBaseline = 'alphabetic';
    ctx.font = 'bold 18px "Liberation Serif"';
    ctx.fillText(p.title[0], p.titleX, p.titleY[0] - off);
    ctx.fillText(p.title[1], p.titleX, p.titleY[1] - off);
    // y-axis title
    ctx.save();
    ctx.translate(22.5, p.yTitleY - off);
    ctx.rotate(-Math.PI / 2);
    ctx.textAlign = 'center';
    ctx.textBaseline = 'middle';
    ctx.font = '19px "Liberation Serif"';
    ctx.fillText('Transit depth (%)', 0, 0);
    ctx.restore();
    if (p.showX) {
      // tick label 10^0
      const px = x.getPixelForValue(1);
      ctx.font = '15px "Liberation Serif"';
      ctx.textAlign = 'left';
      ctx.fillText('10', px - 9.5, 1253 - off);
      ctx.font = '10px "Liberation Serif"';
      ctx.fillText('0', px + 5.5, 1245 - off);
      // x-axis title
      ctx.font = '18px "Liberation Serif"';
      const part1 = 'Wavelength  (';
      ctx.font = 'italic 18px "Liberation Serif"';
      const wMu = ctx.measureText('\u03bc').width;
      ctx.font = '18px "Liberation Serif"';
      const w1 = ctx.measureText(part1).width;
      const w3 = ctx.measureText('m)').width;
      let sx = 336 - (w1 + wMu + w3) / 2;
      const by = 1258 - off;
      ctx.fillText(part1, sx, by); sx += w1;
      ctx.font = 'italic 18px "Liberation Serif"';
      ctx.fillText('\u03bc', sx, by); sx += wMu;
      ctx.font = '18px "Liberation Serif"';
      ctx.fillText('m)', sx, by);
    }
    ctx.restore();
  }
};

Chart.defaults.font.family = '"Liberation Serif", "Times New Roman", serif';

function makePanel(p) {
  const cv = document.createElement('canvas');
  cv.width = 632;
  cv.height = p.canvasH;
  cv.style.top = p.canvasTop + 'px';
  cv.style.width = '632px';
  cv.style.height = p.canvasH + 'px';
  document.body.appendChild(cv);
  const n = SPECIES.length;
  const datasets = SPECIES.map((name, i) => ({
    type: 'line',
    label: name,
    data: p.series[name].map(([w, d]) => ({ x: w, y: d })),
    borderColor: COLORS[name],
    backgroundColor: COLORS[name],
    borderWidth: 1.5,
    pointRadius: 0,
    fill: false,
    tension: 0,
    order: n + 1 - i
  }));
  datasets.push({
    type: 'scatter',
    label: 'Observed',
    data: p.obs.map(([w, d, e]) => ({ x: w, y: d, e: e })),
    pointRadius: 0,
    showLine: false,
    borderColor: COLORS.Observed,
    order: 0
  });
  const xAxisH = p.canvasH - (p.frame.b - p.canvasTop);
  new Chart(cv, {
    type: 'line',
    data: { datasets },
    options: {
      responsive: false,
      animation: false,
      devicePixelRatio: 1,
      events: [],
      layout: { padding: { left: 0, right: 632 - p.frame.r, top: p.frame.t - p.canvasTop, bottom: 0 } },
      plugins: { legend: { display: false }, tooltip: { enabled: false }, panelDecor: { panel: p } },
      scales: {
        x: {
          type: 'logarithmic', min: WL_MIN, max: WL_MAX,
          grid: { display: false, drawTicks: false },
          border: { display: false },
          ticks: { display: false },
          afterFit: s => { s.height = xAxisH; s.paddingLeft = 0; s.paddingRight = 0; }
        },
        y: {
          type: 'linear', min: p.yMin, max: p.yMax,
          afterBuildTicks: s => { s.ticks = p.yTicks.map(v => ({ value: v })); },
          ticks: {
            callback: v => Number(v).toFixed(p.dec),
            color: '#000',
            font: { size: 16, family: '"Liberation Serif"' },
            padding: 1.5
          },
          grid: { drawOnChartArea: false, drawTicks: true, tickLength: 5, tickColor: '#000', tickWidth: 1.2 },
          border: { display: false },
          afterFit: s => { s.width = p.frame.l; s.paddingTop = 0; s.paddingBottom = 0; }
        }
      }
    },
    plugins: [panelDecor]
  });
}

PANELS.forEach(makePanel);
</script>
</body>
</html>
